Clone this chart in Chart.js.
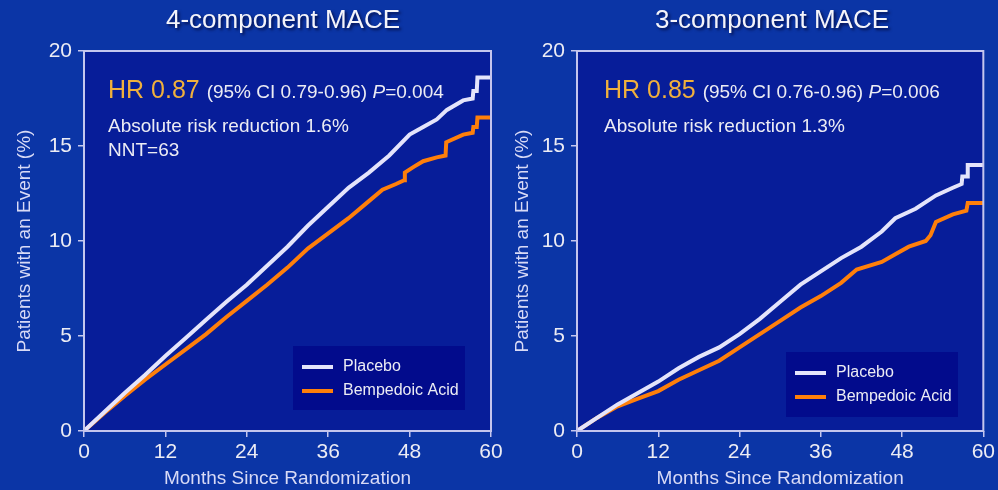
<!DOCTYPE html>
<html>
<head>
<meta charset="utf-8">
<script src="https://cdn.jsdelivr.net/npm/chart.js@4.4.0/dist/chart.umd.min.js"></script>
<style>
  body { margin: 0; background: #0b35a6; }
  #wrap { position: relative; width: 998px; height: 490px; }
  canvas { position: absolute; left: 0; top: 0; }
</style>
</head>
<body>
<div id="wrap">
  <canvas id="left" width="998" height="490"></canvas>
  <canvas id="right" width="998" height="490"></canvas>
</div>
<script>
// tick labels
const monthTicks = [0, 12, 24, 36, 48, 60];
const pctTicks = [0, 5, 10, 15, 20];
const seriesNames = ['Placebo', 'Bempedoic Acid'];

// 4-component MACE
const placeboMonths4 = [0, 3, 6, 9, 12, 15, 18, 21, 24, 27, 30, 33, 36, 39, 42, 45, 48, 50, 52, 53.5, 55.9, 57.3, 57.4, 57.9, 58, 60];
const placebo4       = [0, 1.0, 2.0, 2.95, 3.95, 4.9, 5.85, 6.8, 7.7, 8.7, 9.7, 10.8, 11.8, 12.8, 13.6, 14.5, 15.6, 16.0, 16.4, 16.9, 17.4, 17.5, 17.9, 17.9, 18.6, 18.6];
const bempMonths4    = [0, 3, 6, 9, 12, 15, 18, 21, 24, 27, 30, 33, 36, 39, 42, 44, 46, 47.2, 47.3, 48.6, 50, 52, 53.3, 53.4, 55.9, 57.3, 57.4, 57.9, 58, 60];
const bemp4          = [0, 0.95, 1.85, 2.7, 3.5, 4.3, 5.1, 6.0, 6.85, 7.7, 8.6, 9.6, 10.4, 11.2, 12.1, 12.7, 13.0, 13.2, 13.6, 13.9, 14.2, 14.4, 14.5, 15.2, 15.6, 15.7, 16.0, 16.0, 16.5, 16.5];

// 3-component MACE
const placeboMonths3 = [0, 3, 6, 9, 12, 15, 18, 21, 24, 27, 30, 33, 36, 39, 42, 45, 47, 50, 53, 55.5, 56.8, 56.9, 57.6, 57.7, 60];
const placebo3       = [0, 0.7, 1.4, 2.0, 2.6, 3.3, 3.9, 4.4, 5.1, 5.9, 6.8, 7.7, 8.4, 9.1, 9.7, 10.5, 11.2, 11.7, 12.4, 12.8, 13.0, 13.4, 13.4, 14.0, 14.0];
const bempMonths3    = [0, 3, 6, 9, 12, 15, 18, 21, 24, 27, 30, 33, 36, 39, 41.3, 45, 47, 49, 51.5, 52.2, 53, 55.5, 57.5, 57.7, 60];
const bemp3          = [0, 0.7, 1.3, 1.7, 2.1, 2.7, 3.2, 3.7, 4.4, 5.1, 5.8, 6.5, 7.1, 7.8, 8.5, 8.9, 9.3, 9.7, 10.0, 10.3, 11.0, 11.4, 11.6, 12.0, 12.0];

const FONT = "'Liberation Sans', Arial, sans-serif";
const WHITE_LINE = '#e4e4fb';
const ORANGE_LINE = '#ff7f0a';
const GOLD = '#f0b03c';
const TEXT = '#ececf4';

function pts(xs, ys) {
  return xs.map((x, i) => ({ x: x, y: ys[i] }));
}

function drawRuns(ctx, x, y, runs) {
  runs.forEach(r => {
    ctx.font = r.font;
    ctx.fillStyle = r.color || TEXT;
    ctx.fillText(r.text, x, y);
    x += ctx.measureText(r.text).width;
  });
}

const decor = {
  id: 'decor',
  beforeDraw(chart) {
    const a = chart.chartArea, ctx = chart.ctx;
    ctx.save();
    ctx.fillStyle = '#071d99';
    ctx.fillRect(a.left, a.top, a.right - a.left, a.bottom - a.top);
    ctx.restore();
  },
  afterDatasetsDraw(chart, args, o) {
    const a = chart.chartArea, ctx = chart.ctx;
    ctx.save();
    ctx.strokeStyle = '#c4c6ee';
    ctx.lineWidth = 2;
    ctx.strokeRect(a.left, a.top, a.right - a.left, a.bottom - a.top);

    // title
    ctx.shadowColor = 'rgba(0,0,40,0.7)';
    ctx.shadowOffsetX = 2;
    ctx.shadowOffsetY = 2;
    ctx.shadowBlur = 3;
    ctx.font = '26px ' + FONT;
    ctx.fillStyle = '#f4f4fa';
    ctx.textAlign = 'center';
    ctx.textBaseline = 'alphabetic';
    ctx.fillText(o.title, o.titleX, 28);
    ctx.shadowColor = 'transparent';

    // stats text
    ctx.textAlign = 'left';
    drawRuns(ctx, o.textX, 98, [
      { text: o.hr + ' ', font: '25px ' + FONT, color: GOLD },
      { text: o.ci + ' ', font: '19px ' + FONT },
      { text: 'P', font: 'italic 19px ' + FONT },
      { text: o.p, font: '19px ' + FONT }
    ]);
    o.notes.forEach((t, i) => {
      drawRuns(ctx, o.textX, 132 + i * 24, [{ text: t, font: '19px ' + FONT }]);
    });

    // legend box
    const L = o.legend;
    ctx.fillStyle = '#020b8c';
    ctx.fillRect(L.x, L.y, L.w, L.h);
    ctx.textBaseline = 'middle';
    ctx.font = '16px ' + FONT;
    chart.data.datasets.forEach((ds, i) => {
      const yy = L.y + 21 + i * 24;
      ctx.strokeStyle = ds.borderColor;
      ctx.lineWidth = 4;
      ctx.beginPath();
      ctx.moveTo(L.x + 9, yy);
      ctx.lineTo(L.x + 40, yy);
      ctx.stroke();
      ctx.fillStyle = TEXT;
      ctx.fillText(ds.label, L.x + 50, yy);
    });
    ctx.restore();
  }
};

function makeChart(id, g) {
  return new Chart(document.getElementById(id), {
    type: 'line',
    data: {
      datasets: [
        { label: seriesNames[0], data: pts(g.pm, g.pv), borderColor: WHITE_LINE, borderWidth: 4, pointRadius: 0, tension: 0 },
        { label: seriesNames[1], data: pts(g.bm, g.bv), borderColor: ORANGE_LINE, borderWidth: 4, pointRadius: 0, tension: 0 }
      ]
    },
    options: {
      responsive: false,
      animation: false,
      layout: { padding: { left: g.padL, right: g.padR, top: 51, bottom: 0 } },
      plugins: {
        legend: { display: false },
        tooltip: { enabled: false },
        decor: g.decor
      },
      scales: {
        x: {
          type: 'linear',
          min: 0, max: 60,
          afterBuildTicks: s => { s.ticks = monthTicks.map(v => ({ value: v })); },
          afterFit: s => { s.height = 59; },
          grid: { drawOnChartArea: false, tickLength: 6, color: '#c4c6ee', lineWidth: 1.5 },
          border: { display: false },
          ticks: { color: TEXT, font: { family: FONT, size: 21 }, padding: 3, maxRotation: 0 },
          title: { display: true, text: 'Months Since Randomization', color: '#d8daf6', font: { family: FONT, size: 19 }, padding: { top: 0, bottom: 0 } }
        },
        y: {
          min: 0, max: 20,
          afterBuildTicks: s => { s.ticks = pctTicks.map(v => ({ value: v })); },
          afterFit: s => { s.width = g.axisW; },
          grid: { drawOnChartArea: false, tickLength: 6, color: '#c4c6ee', lineWidth: 1.5 },
          border: { display: false },
          ticks: { color: TEXT, font: { family: FONT, size: 21 }, padding: 6 },
          title: { display: true, text: 'Patients with an Event (%)', color: '#d8daf6', font: { family: FONT, size: 19 }, padding: { top: g.yTitlePad, bottom: 0 } }
        }
      }
    },
    plugins: [decor]
  });
}

makeChart('left', {
  pm: placeboMonths4, pv: placebo4, bm: bempMonths4, bv: bemp4,
  padL: 0, padR: 998 - 491, axisW: 84, yTitlePad: 13,
  decor: {
    title: '4-component MACE', titleX: 283, textX: 108,
    hr: 'HR 0.87', ci: '(95% CI 0.79-0.96)', p: '=0.004',
    notes: ['Absolute risk reduction 1.6%', 'NNT=63'],
    legend: { x: 293, y: 346, w: 172, h: 64 }
  }
});

makeChart('right', {
  pm: placeboMonths3, pv: placebo3, bm: bempMonths3, bv: bemp3,
  padL: 499, padR: 998 - 984, axisW: 78, yTitlePad: 12,
  decor: {
    title: '3-component MACE', titleX: 772, textX: 604,
    hr: 'HR 0.85', ci: '(95% CI 0.76-0.96)', p: '=0.006',
    notes: ['Absolute risk reduction 1.3%'],
    legend: { x: 786, y: 352, w: 172, h: 65 }
  }
});
</script>
</body>
</html>
